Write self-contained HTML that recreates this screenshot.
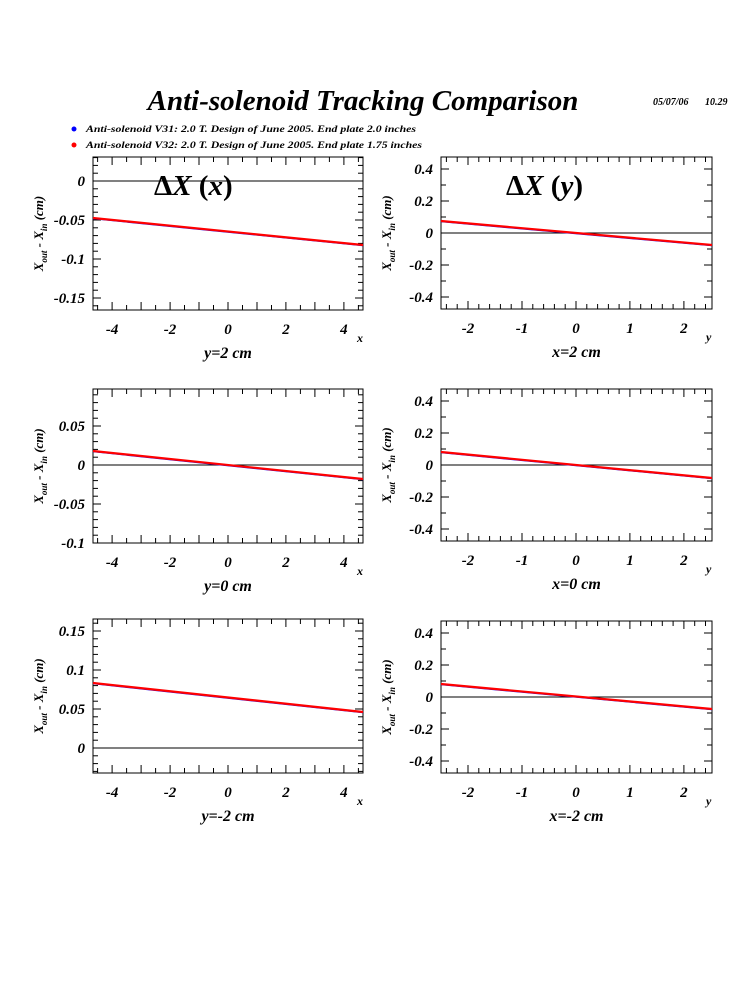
<!DOCTYPE html>
<html><head><meta charset="utf-8"><style>
body{margin:0;background:#fff;}
svg{display:block;font-family:"Liberation Serif",serif;}
</style></head><body>
<svg id="s" width="750" height="1000" xmlns="http://www.w3.org/2000/svg">
<rect width="750" height="1000" fill="#fff"/>
<text x="363" y="110" text-anchor="middle" font-size="29" font-weight="bold" font-style="italic">Anti-solenoid Tracking Comparison</text>
<text x="653" y="105" font-size="10" font-weight="bold" font-style="italic">05/07/06</text>
<text x="705" y="105" font-size="10" font-weight="bold" font-style="italic">10.29</text>
<circle cx="74" cy="129" r="2.5" fill="#0000ff"/>
<circle cx="74" cy="145" r="2.5" fill="#ff0000"/>
<text x="86" y="132" font-size="9.5" font-weight="bold" font-style="italic" textLength="330" lengthAdjust="spacingAndGlyphs">Anti-solenoid V31: 2.0 T. Design of June 2005. End plate 2.0 inches</text>
<text x="86" y="148" font-size="9.5" font-weight="bold" font-style="italic" textLength="336" lengthAdjust="spacingAndGlyphs">Anti-solenoid V32: 2.0 T. Design of June 2005. End plate 1.75 inches</text>
<g id="g"></g>
</svg>
<script>
var g=document.getElementById('g'),h='';
function P(o){
 var x0=o.x0,x1=o.x1,y0=o.y0,y1=o.y1;
 function X(v){return x0+(v-o.xmin)/(o.xmax-o.xmin)*(x1-x0);}
 function Y(v){return y1-(v-o.ymin)/(o.ymax-o.ymin)*(y1-y0);}
 h+='<rect x="'+x0+'" y="'+y0+'" width="'+(x1-x0)+'" height="'+(y1-y0)+'" fill="none" stroke="#000" stroke-width="1"/>';
 for(var v=Math.ceil(o.xmin/o.xminor-1e-6)*o.xminor;v<=o.xmax+1e-9;v+=o.xminor){
  var xx=X(v).toFixed(1);var maj=Math.abs(v/o.xmajor-Math.round(v/o.xmajor))<1e-6;var L=maj?8:5;
  h+='<line x1="'+xx+'" y1="'+y1+'" x2="'+xx+'" y2="'+(y1-L)+'" stroke="#000"/>';
  h+='<line x1="'+xx+'" y1="'+y0+'" x2="'+xx+'" y2="'+(y0+L)+'" stroke="#000"/>';
 }
 for(var v=Math.ceil(o.ymin/o.yminor-1e-6)*o.yminor;v<=o.ymax+1e-9;v+=o.yminor){
  var yy=Y(v).toFixed(1);var maj=Math.abs(v/o.ymajor-Math.round(v/o.ymajor))<1e-6;var L=maj?8:5;
  h+='<line x1="'+x0+'" y1="'+yy+'" x2="'+(x0+L)+'" y2="'+yy+'" stroke="#000"/>';
  h+='<line x1="'+x1+'" y1="'+yy+'" x2="'+(x1-L)+'" y2="'+yy+'" stroke="#000"/>';
 }
 o.xl.forEach(function(t){h+='<text x="'+X(parseFloat(t))+'" y="'+(y1+24)+'" text-anchor="middle" font-size="15" font-weight="bold" font-style="italic">'+t+'</text>';});
 o.yl.forEach(function(t){h+='<text x="'+(x0-8)+'" y="'+(Y(parseFloat(t))+5)+'" text-anchor="end" font-size="15" font-weight="bold" font-style="italic">'+t+'</text>';});
 h+='<line x1="'+x0+'" y1="'+Y(0)+'" x2="'+x1+'" y2="'+Y(0)+'" stroke="#000"/>';
 h+='<line x1="'+x0+'" y1="'+(o.a+0.3)+'" x2="'+x1+'" y2="'+(o.b+0.3)+'" stroke="#0000ff" stroke-width="2"/>';
 h+='<line x1="'+x0+'" y1="'+o.a+'" x2="'+x1+'" y2="'+o.b+'" stroke="#ff0000" stroke-width="2.2"/>';
 h+='<text x="'+(x1-6)+'" y="'+(y1+32)+'" font-size="12" font-weight="bold" font-style="italic">'+o.ax+'</text>';
 h+='<text x="'+((x0+x1)/2)+'" y="'+(y1+48)+'" text-anchor="middle" font-size="16" font-weight="bold" font-style="italic">'+o.sub+'</text>';
 var cx=x0-55,cy=(y0+y1)/2;
 h+='<text transform="translate('+(cx+5)+','+cy+') rotate(-90)" text-anchor="middle" font-size="13" font-weight="bold" font-style="italic">X<tspan font-size="9" dy="4">out</tspan><tspan dy="-4"> - X</tspan><tspan font-size="9" dy="4">in</tspan><tspan dy="-4"> (cm)</tspan></text>';
 if(o.t) h+='<text x="'+o.tx+'" y="'+(y0+38)+'" font-size="29" font-weight="bold">Δ<tspan font-style="italic">X</tspan> (<tspan font-style="italic">'+o.t+'</tspan>)</text>';
}
var L={x0:93,x1:363,xmin:-4.66,xmax:4.66,xmajor:1,xminor:0.5,xl:['-4','-2','0','2','4'],ax:'x'};
var R={x0:441,x1:712,xmin:-2.5,xmax:2.52,xmajor:1,xminor:0.2,ymin:-0.475,ymax:0.475,ymajor:0.2,yminor:0.1,xl:['-2','-1','0','1','2'],yl:['0.4','0.2','0','-0.2','-0.4'],ax:'y'};
function m(a,b){var r={};for(var k in a)r[k]=a[k];for(var k in b)r[k]=b[k];return r;}
P(m(L,{y0:157,y1:310,ymin:-0.1654,ymax:0.0308,ymajor:0.05,yminor:0.01,yl:['0','-0.05','-0.1','-0.15'],a:218,b:245,sub:'y=2 cm',t:'x',tx:154}));
P(m(R,{y0:157,y1:309,a:221,b:245,sub:'x=2 cm',t:'y',tx:506}));
P(m(L,{y0:389,y1:543,ymin:-0.1,ymax:0.0974,ymajor:0.05,yminor:0.01,yl:['0.05','0','-0.05','-0.1'],a:451,b:479,sub:'y=0 cm'}));
P(m(R,{y0:389,y1:541,a:452,b:478,sub:'x=0 cm'}));
P(m(L,{y0:619,y1:773,ymin:-0.032,ymax:0.1654,ymajor:0.05,yminor:0.01,yl:['0.15','0.1','0.05','0'],a:683,b:712,sub:'y=-2 cm'}));
P(m(R,{y0:621,y1:773,a:684,b:709,sub:'x=-2 cm'}));
g.innerHTML=h;
</script>
</body></html>
